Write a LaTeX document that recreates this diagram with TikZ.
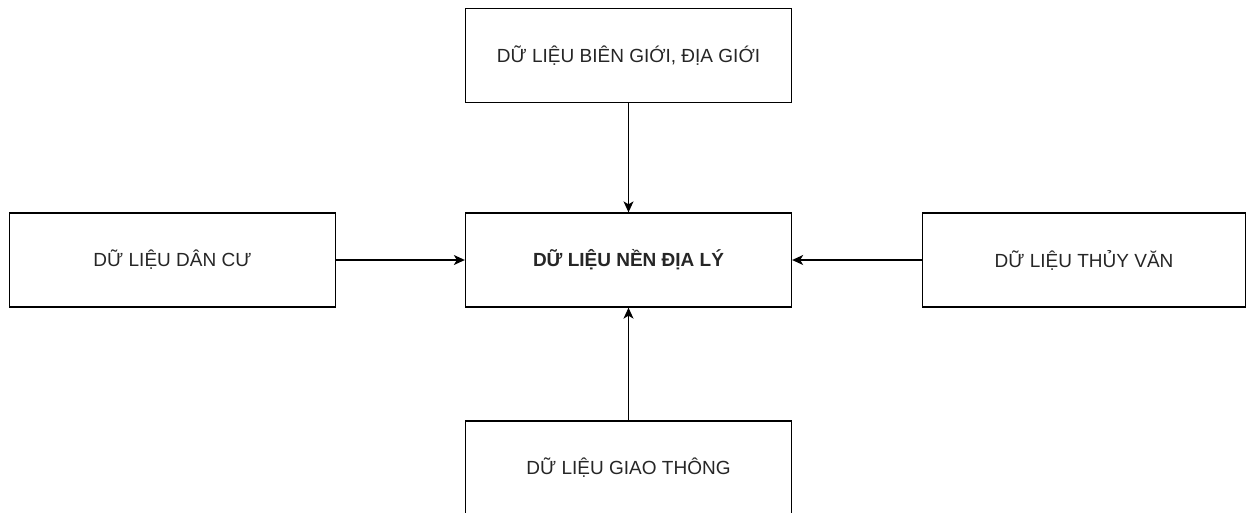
\documentclass[tikz,border=0pt]{standalone}
\usepackage{fontspec}
\setmainfont{Liberation Sans}
\usetikzlibrary{arrows.meta}
\begin{document}
\begin{tikzpicture}[x=1pt,y=-1pt,
  box/.style={draw=black,line width=1.3pt,fill=white,minimum width=326pt,minimum height=94pt,inner sep=0pt,font=\fontsize{19}{22}\selectfont,text=black!85},
  conn/.style={line width=1.3pt,-{Stealth[length=11pt,width=10pt,inset=3pt]}}]
\useasboundingbox (0,0) rectangle (1250,512);
\begin{scope}
\clip (0,0) rectangle (1250,512);
\node[box] (top) at (628.5,55.5) {DỮ LIỆU BIÊN GIỚI, ĐỊA GIỚI};
\node[box] (center) at (628.5,260) {\bfseries DỮ LIỆU NỀN ĐỊA LÝ};
\node[box] (left) at (172.5,260) {DỮ LIỆU DÂN CƯ};
\node[box,minimum width=323pt] (right) at (1084,260) {DỮ LIỆU THỦY VĂN};
\node[box] (bottom) at (628.5,468) {DỮ LIỆU GIAO THÔNG};
\draw[conn] (top) -- (center);
\draw[conn] (left) -- (center);
\draw[conn] (right) -- (center);
\draw[conn] (bottom) -- (center);
\end{scope}
\end{tikzpicture}
\end{document}
